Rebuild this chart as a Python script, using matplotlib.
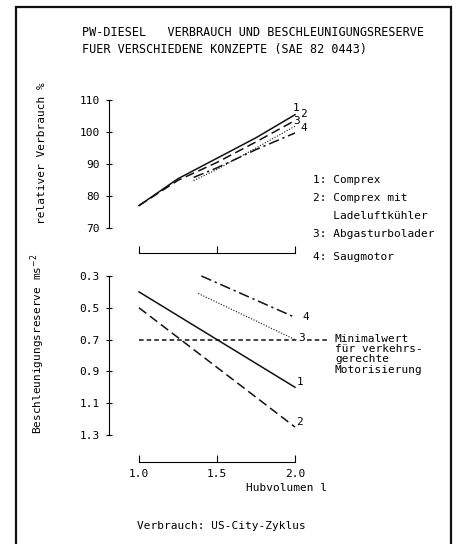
import matplotlib.pyplot as plt
from matplotlib.patches import Rectangle

plt.rcParams['font.family'] = 'DejaVu Sans Mono'

# data
hub = [1.0, 1.25, 1.5, 1.75, 2.0]
verbrauch_comprex = [77.0, 85.4, 91.8, 98.2, 105.4]
verbrauch_comprex_llk = [77.0, 84.9, 90.5, 96.9, 103.6]
hub_late = [1.35, 1.5, 1.75, 2.0]
verbrauch_abgas = [84.8, 88.3, 95.0, 101.8]
verbrauch_saug = [85.8, 88.8, 94.5, 99.7]

hub_1 = [1.0, 2.0]
reserve_comprex = [0.40, 1.00]
hub_2 = [1.0, 2.0]
reserve_comprex_llk = [0.50, 1.25]
hub_3 = [1.38, 2.0]
reserve_abgas = [0.41, 0.70]
hub_4 = [1.40, 2.0]
reserve_saug = [0.30, 0.56]
minimalwert = 0.7

legend_lines = ["1: Comprex", "2: Comprex mit", "   Ladeluftkühler",
                "3: Abgasturbolader", "4: Saugmotor"]

W, H = 457, 544
fig = plt.figure(figsize=(W / 100, H / 100), dpi=100)
fig.patch.set_facecolor('white')


def rect(l, t, r, b):
    return [l / W, 1 - b / H, (r - l) / W, (b - t) / H]


def fx(px):
    return px / W


def fy(py):
    return 1 - py / H


# outer frame
fig.patches.append(Rectangle((fx(16), fy(560)), fx(451) - fx(16), fy(7) - fy(560),
                             transform=fig.transFigure, fill=False, lw=1.6, color='#111'))

fig.text(fx(82), fy(32), "PW-DIESEL   VERBRAUCH UND BESCHLEUNIGUNGSRESERVE",
         fontsize=8.5, va='center', ha='left')
fig.text(fx(82), fy(50), "FUER VERSCHIEDENE KONZEPTE (SAE 82 0443)",
         fontsize=8.5, va='center', ha='left')

xl = (0.8077, 2.2885)
lw = 1.1

# upper chart
ax1 = fig.add_axes(rect(109, 95, 340, 253))
ax1.set_xlim(*xl)
ax1.set_ylim(62.19, 111.56)
for s in ['top', 'right']:
    ax1.spines[s].set_visible(False)
ax1.spines['left'].set_bounds(70, 110)
ax1.spines['bottom'].set_bounds(1.0, 2.0)
ax1.set_yticks([70, 80, 90, 100, 110])
ax1.set_xticks([1.0, 1.5, 2.0])
ax1.set_xticklabels([])
ax1.tick_params(axis='y', direction='inout', length=5, labelsize=8, pad=4)
ax1.tick_params(axis='x', direction='in', length=5)
ax1.patch.set_alpha(0)

ax1.plot(hub, verbrauch_comprex, '-', color='#111', lw=lw)
ax1.plot(hub, verbrauch_comprex_llk, color='#111', lw=lw, dashes=(6, 3))
ax1.plot(hub_late, verbrauch_abgas, color='#111', lw=0.8, dashes=(1, 1.5))
ax1.plot(hub_late, verbrauch_saug, color='#111', lw=lw, dashes=(7, 2.5, 1.5, 2.5))
# curve numbers, staggered so they do not collide
for lab, xp, yp in [("1", 293, 107.5), ("2", 300.5, 105.5), ("3", 293, 103.3), ("4", 300.5, 101.2)]:
    ax1.text(1.0 + (xp - 139) / 156, yp, lab, fontsize=8, va='center')

ax1.set_ylabel("relativer Verbrauch %", fontsize=8)
ax1.yaxis.set_label_coords(fx(47 - 109) / fx(231), (fy(153) - fy(253)) / (fy(95) - fy(253)))

# lower chart
ax2 = fig.add_axes(rect(109, 262, 340, 462))
ax2.set_xlim(*xl)
ax2.set_ylim(1.470, 0.212)
for s in ['top', 'right']:
    ax2.spines[s].set_visible(False)
ax2.spines['left'].set_bounds(0.3, 1.3)
ax2.spines['bottom'].set_bounds(1.0, 2.0)
ax2.set_yticks([0.3, 0.5, 0.7, 0.9, 1.1, 1.3])
ax2.set_yticklabels(["0.3", "0.5", "0.7", "0.9", "1.1", "1.3"])
ax2.set_xticks([1.0, 1.5, 2.0])
ax2.set_xticklabels(["1.0", "1.5", "2.0"])
ax2.tick_params(axis='y', direction='inout', length=5, labelsize=8, pad=4)
ax2.tick_params(axis='x', direction='in', length=5, labelsize=8, pad=5)
ax2.patch.set_alpha(0)

ax2.plot([1.0, 2.22], [minimalwert, minimalwert], color='#111', lw=lw, dashes=(3, 2))
ax2.plot(hub_1, reserve_comprex, '-', color='#111', lw=lw)
ax2.plot(hub_2, reserve_comprex_llk, color='#111', lw=lw, dashes=(6, 3))
ax2.plot(hub_3, reserve_abgas, color='#111', lw=0.8, dashes=(1, 1.5))
ax2.plot(hub_4, reserve_saug, color='#111', lw=lw, dashes=(7, 2.5, 1.5, 2.5))
ax2.text(2.01, 1.0, "1", fontsize=8, va='bottom')
ax2.text(2.01, 1.25, "2", fontsize=8, va='bottom')
ax2.text(2.02, 0.69, "3", fontsize=8, va='center',
         bbox=dict(facecolor='white', edgecolor='none', pad=0.3))
ax2.text(2.05, 0.56, "4", fontsize=8, va='center')
ax2.text(2.256, 0.662, "Minimalwert\nfür verkehrs-\ngerechte\nMotorisierung",
         fontsize=8, va='top', ha='left', linespacing=1.05)

ax2.set_ylabel("Beschleunigungsreserve ms$^{-2}$", fontsize=8)
ax2.yaxis.set_label_coords(fx(47 - 109) / fx(231), (fy(344) - fy(462)) / (fy(262) - fy(462)))

for t, y in zip(legend_lines, [180, 198, 216, 234, 257]):
    fig.text(fx(313), fy(y), t, fontsize=8, va='center', ha='left')

fig.text(fx(287), fy(488), "Hubvolumen l", fontsize=8, ha='center', va='center')
fig.text(fx(221), fy(526), "Verbrauch: US-City-Zyklus", fontsize=8, ha='center', va='center')

fig.savefig("out.png", dpi=100)
